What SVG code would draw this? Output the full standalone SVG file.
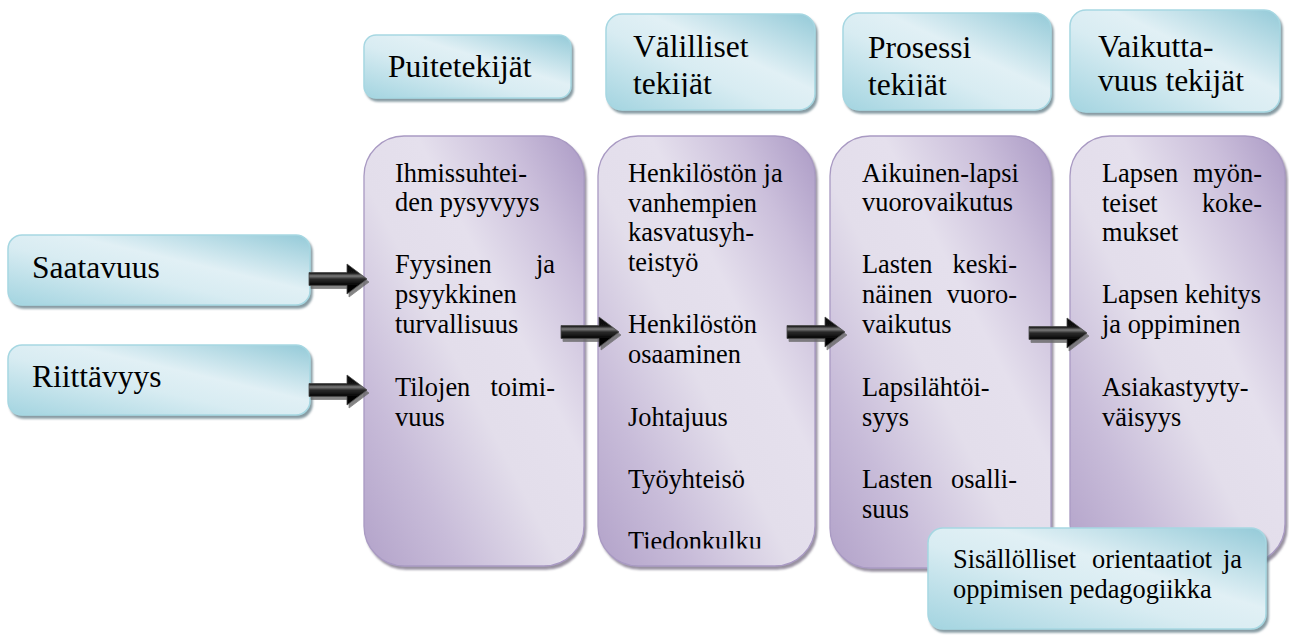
<svg xmlns="http://www.w3.org/2000/svg" width="1289" height="635" viewBox="0 0 1289 635">
<defs>
<style>
.h{font-size:31.5px}
.b{font-size:26.4px}
.blue{fill:url(#gBlue);stroke:#a6d7e2;stroke-width:1.5;filter:url(#shB)}
.purple{fill:url(#gPurple);stroke:#a99ac3;stroke-width:1.3;filter:url(#shP)}
.end{text-anchor:end}
</style>
<linearGradient id="gBlue" x1="0" y1="1" x2="1" y2="0">
<stop offset="0" stop-color="#a3d4e0"/>
<stop offset="0.42" stop-color="#d8ecf2"/>
<stop offset="0.6" stop-color="#e1f0f5"/>
<stop offset="1" stop-color="#94cad8"/>
</linearGradient>
<linearGradient id="gPurple" x1="0" y1="1" x2="1" y2="0">
<stop offset="0" stop-color="#b2a2c9"/>
<stop offset="0.22" stop-color="#c8bcd9"/>
<stop offset="0.45" stop-color="#e3deeb"/>
<stop offset="0.62" stop-color="#e5e0ed"/>
<stop offset="0.82" stop-color="#cbbfdb"/>
<stop offset="1" stop-color="#ab9ac5"/>
</linearGradient>
<linearGradient id="gArrow" gradientUnits="userSpaceOnUse" x1="0" y1="-15" x2="0" y2="15">
<stop offset="0" stop-color="#000"/>
<stop offset="0.3" stop-color="#151515"/>
<stop offset="0.4" stop-color="#7a7a7a"/>
<stop offset="0.5" stop-color="#2a2a2a"/>
<stop offset="0.7" stop-color="#050505"/>
<stop offset="1" stop-color="#000"/>
</linearGradient>
<filter id="shB" x="-5%" y="-5%" width="115%" height="120%">
<feDropShadow dx="2" dy="3" stdDeviation="0.8" flood-color="#5f7a84" flood-opacity="0.75"/>
</filter>
<filter id="shP" x="-5%" y="-5%" width="115%" height="115%">
<feDropShadow dx="2" dy="3" stdDeviation="0.8" flood-color="#6c6378" flood-opacity="0.7"/>
</filter>
<filter id="shA" x="-10%" y="-20%" width="130%" height="150%">
<feDropShadow dx="2" dy="3" stdDeviation="0.7" flood-color="#666" flood-opacity="0.8"/>
</filter>
<path id="arrow" d="M -58,-6.5 L -20,-6.5 L -20,-15 L 0,0 L -20,15 L -20,6.5 L -58,6.5 Z" fill="url(#gArrow)" stroke="#4a4a4a" stroke-width="0.8" stroke-linejoin="miter"/>
<clipPath id="clipV"><rect x="600" y="0" width="230" height="97"/></clipPath>
<clipPath id="clipP"><rect x="838" y="0" width="230" height="97"/></clipPath>
<clipPath id="clipT"><rect x="600" y="500" width="230" height="48.5"/></clipPath>
</defs>

<rect width="1289" height="635" fill="#fff"/>

<g font-family="Liberation Serif, Times New Roman, Times, DejaVu Serif, serif" fill="#000">

<g id="col1">
<rect class="purple" x="364" y="136" width="220" height="430" rx="40"/>
<text class="b" x="395" y="182">Ihmissuhtei-</text>
<text class="b" x="395" y="211">den pysyvyys</text>
<text class="b" x="395" y="273">Fyysinen</text>
<text class="b end" x="555" y="273">ja</text>
<text class="b" x="395" y="303">psyykkinen</text>
<text class="b" x="395" y="333">turvallisuus</text>
<text class="b" x="395" y="396">Tilojen</text>
<text class="b end" x="555" y="396">toimi-</text>
<text class="b" x="395" y="426">vuus</text>
</g>

<g id="col2">
<rect class="purple" x="598" y="136" width="217" height="430" rx="40"/>
<text class="b" x="628" y="182">Henkilöstön ja</text>
<text class="b" x="628" y="212">vanhempien</text>
<text class="b" x="628" y="241">kasvatusyh-</text>
<text class="b" x="628" y="271">teistyö</text>
<text class="b" x="628" y="333">Henkilöstön</text>
<text class="b" x="628" y="363">osaaminen</text>
<text class="b" x="628" y="426">Johtajuus</text>
<text class="b" x="628" y="488">Työyhteisö</text>
<text class="b" x="628" y="550" clip-path="url(#clipT)">Tiedonkulku</text>
</g>

<g id="col3">
<rect class="purple" x="830" y="136" width="221" height="432" rx="40"/>
<text class="b" x="862" y="182">Aikuinen-lapsi</text>
<text class="b" x="862" y="211">vuorovaikutus</text>
<text class="b" x="862" y="273">Lasten</text>
<text class="b end" x="1017" y="273">keski-</text>
<text class="b" x="862" y="303">näinen</text>
<text class="b end" x="1017" y="303">vuoro-</text>
<text class="b" x="862" y="333">vaikutus</text>
<text class="b" x="862" y="396">Lapsilähtöi-</text>
<text class="b" x="862" y="426">syys</text>
<text class="b" x="862" y="488">Lasten</text>
<text class="b end" x="1017" y="488">osalli-</text>
<text class="b" x="862" y="518">suus</text>
</g>

<g id="col4">
<rect class="purple" x="1070" y="136" width="215" height="428" rx="40"/>
<text class="b" x="1102" y="182">Lapsen</text>
<text class="b end" x="1262" y="182">myön-</text>
<text class="b" x="1102" y="212">teiset</text>
<text class="b end" x="1262" y="212">koke-</text>
<text class="b" x="1102" y="241">mukset</text>
<text class="b" x="1102" y="303">Lapsen kehitys</text>
<text class="b" x="1102" y="333">ja oppiminen</text>
<text class="b" x="1102" y="396">Asiakastyyty-</text>
<text class="b" x="1102" y="426">väisyys</text>
</g>

<g id="puitetekijat">
<rect class="blue" x="364" y="35" width="207" height="63" rx="12"/>
<text class="h" x="388" y="77">Puitetekijät</text>
</g>

<g id="valilliset">
<rect class="blue" x="606" y="14" width="209" height="96" rx="16"/>
<text class="h" x="633" y="57">Välilliset</text>
<text class="h" x="633" y="94" clip-path="url(#clipV)">tekijät</text>
</g>

<g id="prosessi">
<rect class="blue" x="843" y="13" width="208" height="97" rx="16"/>
<text class="h" x="868" y="58">Prosessi</text>
<text class="h" x="868" y="95" clip-path="url(#clipP)">tekijät</text>
</g>

<g id="vaikuttavuus">
<rect class="blue" x="1070" y="10" width="210" height="102" rx="16"/>
<text class="h" x="1098" y="57">Vaikutta-</text>
<text class="h" x="1098" y="91">vuus tekijät</text>
</g>

<g id="saatavuus">
<rect class="blue" x="8" y="235" width="302" height="70" rx="14"/>
<text class="h" x="32" y="278">Saatavuus</text>
</g>

<g id="riittavyys">
<rect class="blue" x="8" y="345" width="302" height="70" rx="14"/>
<text class="h" x="32" y="387">Riittävyys</text>
</g>

<g id="sisallolliset">
<rect class="blue" x="928" y="528" width="338" height="101" rx="15"/>
<text class="b" x="953" y="568">Sisällölliset</text>
<text class="b" x="1092" y="568">orientaatiot</text>
<text class="b end" x="1242" y="568">ja</text>
<text class="b" x="953" y="598">oppimisen pedagogiikka</text>
</g>

</g>

<g id="connectors" filter="url(#shA)">
<use href="#arrow" transform="translate(367,279)"/>
<use href="#arrow" transform="translate(367,390)"/>
<use href="#arrow" transform="translate(619,332)"/>
<use href="#arrow" transform="translate(845,332)"/>
<use href="#arrow" transform="translate(1087,333)"/>
</g>
</svg>
